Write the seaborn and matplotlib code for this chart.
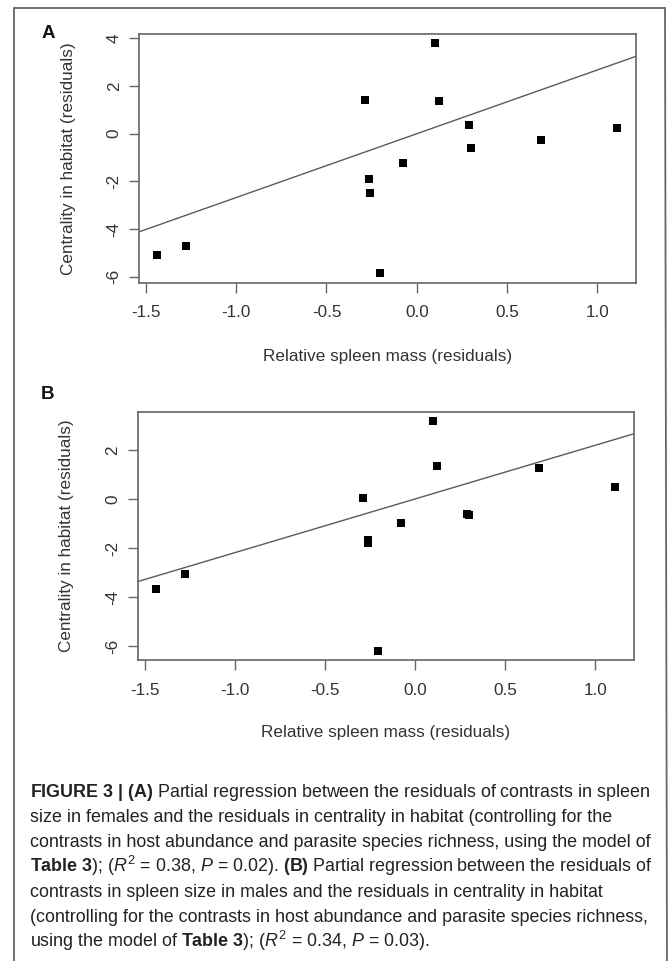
import numpy as np
import pandas as pd
import matplotlib
matplotlib.use("Agg")
import matplotlib.pyplot as plt
import seaborn as sns
from matplotlib.lines import Line2D

# ---------------- data ----------------
spleen_resid = [-1.436, -1.277, -0.289, -0.263, -0.261, -0.204, -0.077,
                0.099, 0.122, 0.290, 0.299, 0.687, 1.110]
centrality_A = [-5.10, -4.72, 1.43, -1.89, -2.50, -5.87, -1.23,
                3.79, 1.39, 0.38, -0.62, -0.28, 0.23]
centrality_B = [-3.66, -3.04, 0.05, -1.66, -1.81, -6.20, -0.97,
                3.18, 1.35, -0.62, -0.64, 1.28, 0.48]
slope_A, intercept_A = 2.68, 0.0
slope_B, intercept_B = 2.19, 0.0
x_ticks = [-1.5, -1.0, -0.5, 0.0, 0.5, 1.0]
y_ticks_A = [-6, -4, -2, 0, 2, 4]
y_ticks_B = [-6, -4, -2, 0, 2]
x_label = "Relative spleen mass (residuals)"
y_label = "Centrality in habitat (residuals)"
panel_labels = ["A", "B"]
caption_lines = [
    r"$\mathbf{FIGURE\ 3\ |\ (A)}$ Partial regression between the residuals of contrasts in spleen",
    "size in females and the residuals in centrality in habitat (controlling for the",
    "contrasts in host abundance and parasite species richness, using the model of",
    r"$\mathbf{Table\ 3}$); ($R^{2}$ = 0.38, $P$ = 0.02). $\mathbf{(B)}$ Partial regression between the residuals of",
    "contrasts in spleen size in males and the residuals in centrality in habitat",
    "(controlling for the contrasts in host abundance and parasite species richness,",
    r"using the model of $\mathbf{Table\ 3}$); ($R^{2}$ = 0.34, $P$ = 0.03).",
]

# ---------------- style ----------------
sns.set_style("white")
plt.rcParams["font.family"] = ["Liberation Sans", "DejaVu Sans"]
plt.rcParams["axes.unicode_minus"] = False
plt.rcParams["mathtext.fontset"] = "custom"
plt.rcParams["mathtext.rm"] = "Liberation Sans"
plt.rcParams["mathtext.it"] = "Liberation Sans:italic"
plt.rcParams["mathtext.bf"] = "Liberation Sans:bold"

W, H = 669, 961
fig = plt.figure(figsize=(W / 100, H / 100), dpi=100)
fig.patch.set_facecolor("white")

def fx(px):
    return px / W

def fy(py):
    return 1 - py / H

# outer frame (open at bottom, runs off the image)
frame_col = "#666666"
fig.add_artist(Line2D([fx(14), fx(14)], [fy(8), -0.01], color=frame_col, lw=1.3))
fig.add_artist(Line2D([fx(14), fx(665)], [fy(8), fy(8)], color=frame_col, lw=1.3))
fig.add_artist(Line2D([fx(665), fx(667)], [fy(8), -0.01], color=frame_col, lw=1.3))

# axes placement (pixels: left, top, right, bottom)
boxes = [(139, 34.3, 635.7, 282.7), (137.7, 411.7, 633.7, 660.3)]
ys = [centrality_A, centrality_B]
lines = [(slope_A, intercept_A), (slope_B, intercept_B)]
yticks = [y_ticks_A, y_ticks_B]
xlab_y = [356, 733]
ylab_x = [68, 66]
plab_pos = [(48, 34), (48, 395)]

axis_col = "#666666"
text_col = "#333333"

for i in range(2):
    l, t, r, b = boxes[i]
    ax = fig.add_axes([fx(l), fy(b), (r - l) / W, (b - t) / H])
    df = pd.DataFrame({"x": spleen_resid, "y": ys[i]})
    sns.scatterplot(data=df, x="x", y="y", ax=ax, marker="s", s=30,
                    color="black", linewidth=0, legend=False, zorder=3)
    xr = max(spleen_resid) - min(spleen_resid)
    yr = max(ys[i]) - min(ys[i])
    ax.set_xlim(min(spleen_resid) - 0.04 * xr, max(spleen_resid) + 0.04 * xr)
    ax.set_ylim(min(ys[i]) - 0.04 * yr, max(ys[i]) + 0.04 * yr)
    sl, ic = lines[i]
    ax.axline((0, ic), slope=sl, color="#5a5a5a", lw=1.0, zorder=2)

    ax.set_xticks(x_ticks)
    ax.set_xticklabels([f"{v:.1f}" for v in x_ticks])
    ax.set_yticks(yticks[i])
    ax.set_yticklabels([f"{v:d}" for v in yticks[i]])
    ax.tick_params(axis="both", direction="out", length=7.5, width=1.0,
                   color=axis_col, labelcolor=text_col, labelsize=12.3,
                   bottom=True, left=True, top=False, right=False)
    ax.tick_params(axis="x", pad=8.5)
    ax.tick_params(axis="y", labelrotation=90, pad=5)
    for lab in ax.get_yticklabels():
        lab.set_va("center")
    for sp in ax.spines.values():
        sp.set_visible(True)
        sp.set_color(axis_col)
        sp.set_linewidth(1.2)
    ax.grid(False)

    ax.set_xlabel(x_label, fontsize=12.3, color=text_col)
    ax.xaxis.set_label_coords(0.5, (b - xlab_y[i]) / (b - t))
    ax.xaxis.label.set_va("center")
    ax.set_ylabel(y_label, fontsize=12.3, color=text_col)
    ax.yaxis.set_label_coords((ylab_x[i] - l) / (r - l), 0.5)
    ax.yaxis.label.set_va("center")

    px, py = plab_pos[i]
    fig.text(fx(px), fy(py), panel_labels[i], fontsize=13.5, fontweight="bold",
             ha="center", va="center", color="#111111")

# caption
base0 = 797
step = 25.0
for k, line in enumerate(caption_lines):
    fig.text(fx(29.5), fy(base0 + k * step), line, fontsize=12.9,
             ha="left", va="baseline", color="#222222")

fig.savefig("out.png", dpi=100, facecolor="white")
